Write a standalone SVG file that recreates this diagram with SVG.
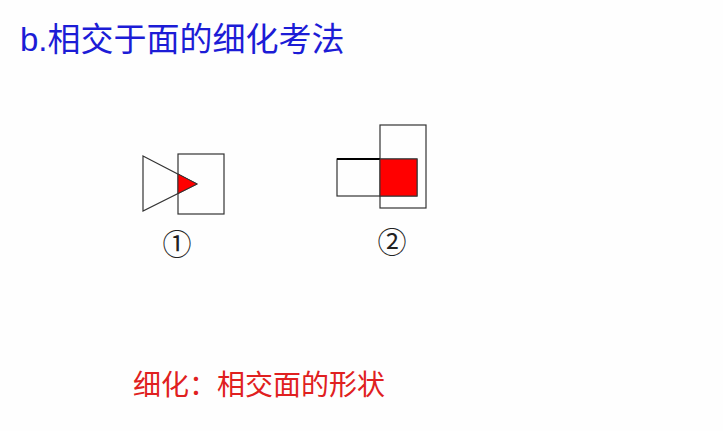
<svg xmlns="http://www.w3.org/2000/svg" width="723" height="431" viewBox="0 0 723 431">
<style>
.ln{fill:none;stroke:#333;stroke-width:1.2}
.red{fill:#ff0000;stroke:#333;stroke-width:1}
.num{font-family:"Noto Sans CJK SC","DejaVu Sans",sans-serif;font-size:29px;fill:#222}
</style>
<rect width="723" height="431" fill="#fefefe"/>
<text x="20" y="51" font-family="'Liberation Sans','Noto Sans CJK SC',sans-serif" font-size="33" fill="#1c1cd6">b.相交于面的细化考法</text>
<g id="fig1">
<rect class="ln" x="178" y="154" width="46" height="60" fill="#fff"/>
<polygon class="ln" points="143,156 197,184 143,211"/>
<polygon class="red" points="178,174 197,184 178,193.5"/>
<text class="num" x="177" y="255" text-anchor="middle">①</text>
</g>
<g id="fig2">
<rect class="ln" x="380" y="125" width="46" height="83"/>
<rect class="ln" x="337" y="159" width="80" height="37"/>
<line x1="337" y1="159" x2="380" y2="159" stroke="#000" stroke-width="2"/>
<rect class="red" x="380" y="159" width="37" height="37"/>
<text class="num" x="392" y="253" text-anchor="middle">②</text>
</g>
<text x="133" y="395" font-family="'Noto Sans CJK SC',sans-serif" font-size="28" fill="#e02020">细化：相交面的形状</text>
</svg>
